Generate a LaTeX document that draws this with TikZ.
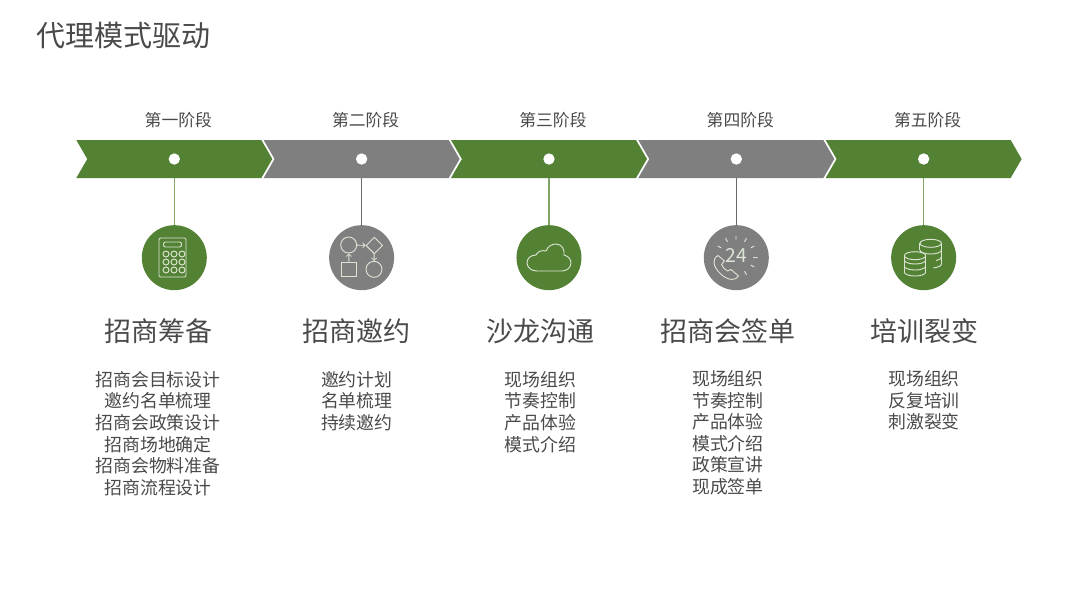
\documentclass[tikz,border=0pt]{standalone}
\usepackage{fontspec}
\setmainfont{Noto Sans CJK SC}
\usetikzlibrary{positioning, shapes.symbols, shapes.geometric, arrows}
\definecolor{stagegreen}{HTML}{548235}
\definecolor{stagegray}{HTML}{7F7F7F}
\definecolor{linegreen}{HTML}{7FA463}
\definecolor{linegray}{HTML}{6A6A6A}
\definecolor{iconline}{HTML}{DCE4D4}
\definecolor{inktext}{HTML}{4A4A4A}

\begin{document}
\begin{tikzpicture}[
            x = 0.75pt,
            y = -0.75pt,
            > = to, % open arrow head
            node distance = 140.5pt, % distance between stages
            text = inktext
        ]

        \tikzset{
            chevron/.style = {
                signal, signal from = west, signal to = east,
                signal pointer angle = 120,
                minimum width = 147pt,
                minimum height = 28.5pt,
                inner sep = 0pt
            },
            stagedot/.style = {circle, fill = white, minimum size = 8.5pt, inner sep = 0pt},
            badge/.style = {circle, minimum size = 48.75pt, inner sep = 0pt},
            stagelabel/.style = {font = \fontsize{12.6}{15}\selectfont},
            heading/.style = {font = \fontsize{20.25}{24}\selectfont},
            itemlist/.style = {align = center, font = \fontsize{13.4}{16.2}\selectfont},
            glyph/.style = {draw = iconline, line width = 0.7pt}
        }
        \useasboundingbox (0,0) rectangle (1080,608);

        \node[anchor = west, font = \fontsize{21.75}{26}\selectfont] (title) at (32,36) {代理模式驱动};

        % chevrons
        \node[chevron, fill = stagegreen] (s1) at (174.3,159) {};
        \node[chevron, fill = stagegray] (s2) [right of=s1] {};
        \node[chevron, fill = stagegreen] (s3) [right of=s2] {};
        \node[chevron, fill = stagegray] (s4) [right of=s3] {};
        \node[chevron, fill = stagegreen] (s5) [right of=s4] {};

        \node[stagedot] (d1) at (s1) {};
        \node[stagedot] (d2) at (s2) {};
        \node[stagedot] (d3) at (s3) {};
        \node[stagedot] (d4) at (s4) {};
        \node[stagedot] (d5) at (s5) {};

        \node[stagelabel] (l1) [above of=s1, node distance=29pt, xshift=3pt] {第一阶段};
        \node[stagelabel] (l2) [above of=s2, node distance=29pt, xshift=3pt] {第二阶段};
        \node[stagelabel] (l3) [above of=s3, node distance=29pt, xshift=3pt] {第三阶段};
        \node[stagelabel] (l4) [above of=s4, node distance=29pt, xshift=3pt] {第四阶段};
        \node[stagelabel] (l5) [above of=s5, node distance=29pt, xshift=3pt] {第五阶段};

        % badges
        \node[badge, fill = stagegreen] (c1) [below of=s1, node distance=74pt] {};
        \node[badge, fill = stagegray] (c2) [below of=s2, node distance=74pt] {};
        \node[badge, fill = stagegreen] (c3) [below of=s3, node distance=74pt] {};
        \node[badge, fill = stagegray] (c4) [below of=s4, node distance=74pt] {};
        \node[badge, fill = stagegreen] (c5) [below of=s5, node distance=74pt] {};

        \draw[linegreen, line width = 1pt] (s1.south) -- (c1);
        \draw[linegray, line width = 1pt] (s2.south) -- (c2);
        \draw[linegreen, line width = 1pt] (s3.south) -- (c3);
        \draw[linegray, line width = 1pt] (s4.south) -- (c4);
        \draw[linegreen, line width = 1pt] (s5.south) -- (c5);

        % headings and lists
        \node[heading] (h1) [below of=c1, node distance=55pt, xshift=-12.2pt] {招商筹备};
        \node[heading] (h2) [below of=c2, node distance=55pt, xshift=-3.6pt] {招商邀约};
        \node[heading] (h3) [below of=c3, node distance=55pt, xshift=-6.3pt] {沙龙沟通};
        \node[heading] (h4) [below of=c4, node distance=55pt, xshift=-6.3pt] {招商会签单};
        \node[heading] (h5) [below of=c5, node distance=55pt, xshift=0.3pt] {培训裂变};

        \node[itemlist] (t1) [below=13.75pt of h1] {招商会目标设计\\邀约名单梳理\\招商会政策设计\\招商场地确定\\招商会物料准备\\招商流程设计};
        \node[itemlist] (t2) [below=13.75pt of h2] {邀约计划\\名单梳理\\持续邀约};
        \node[itemlist] (t3) [below=13.75pt of h3] {现场组织\\节奏控制\\产品体验\\模式介绍};
        \node[itemlist] (t4) [below=13.2pt of h4] {现场组织\\节奏控制\\产品体验\\模式介绍\\政策宣讲\\现成签单};
        \node[itemlist] (t5) [below=13.2pt of h5] {现场组织\\反复培训\\刺激裂变};

        % calculator
        \draw[glyph, rounded corners = 1pt] (159,238) rectangle (186,277);
        \draw[glyph, rounded corners = 1.5pt] (163.5,242) rectangle (181.5,247);
        \draw[glyph] (166,254) circle[radius=3] (174,254) circle[radius=3] (182,254) circle[radius=3]
            (166,262) circle[radius=3] (174,262) circle[radius=3] (182,262) circle[radius=3]
            (166,270) circle[radius=3] (174,270) circle[radius=3] (182,270) circle[radius=3];

        % flow chart
        \node[glyph, circle, minimum size = 12pt, inner sep = 0pt] (f1) at (348.7,245) {};
        \node[glyph, diamond, minimum size = 12.5pt, inner sep = 0pt] (f2) at (374.3,245.5) {};
        \node[glyph, circle, minimum size = 12pt, inner sep = 0pt] (f3) at (374,269.3) {};
        \node[glyph, rectangle, minimum size = 11pt, inner sep = 0pt] (f4) at (349,269.5) {};
        \draw[glyph, ->] (f4) -- (f1);
        \draw[glyph, ->] (f1) -- (f2);
        \draw[glyph, ->] (f2) -- (f3);

        % cloud
        \draw[glyph, line join = round] (537,271) .. controls (531,271) and (527,267) .. (527,263)
            .. controls (527,258) and (531,255) .. (536,255)
            .. controls (538,251) and (542,250) .. (546,251)
            .. controls (548,246) and (552,244) .. (556,244)
            .. controls (562,244) and (565,250) .. (564,255)
            .. controls (568,256) and (571,259) .. (571,263)
            .. controls (571,268) and (566,271) .. (562,271) -- cycle;

        % phone and clock
        \node[text = iconline, font = \fontsize{14.5}{16}\selectfont, inner sep = 0pt] (n24) at (736,255) {24};
        \draw[glyph] (736,239.5) -- (736,235.5) (744.5,241.8) -- (746.5,238.3) (750.7,248) -- (754.2,246)
            (753,257.5) -- (757.5,257.5) (750.7,265) -- (754.2,267) (744.5,271.2) -- (746.5,274.7)
            (727.5,241.8) -- (725.5,238.3) (721.3,248) -- (717.8,246);
        \draw[glyph, line join = round] (718,255.5) .. controls (715,257) and (713.5,260) .. (714,263)
            .. controls (715,270) and (724,279) .. (732,279.5)
            .. controls (735,279.5) and (737.5,278) .. (738.5,276)
            -- (731,269.5) -- (727.5,271)
            .. controls (725,270) and (722.5,267) .. (721.5,264.5)
            -- (724.5,261) -- cycle;

        % coins, back stack
        \draw[glyph] (930.7,243.3) ellipse[x radius=10.8, y radius=4];
        \draw[glyph] (919.9,243.3) -- (919.9,250) (941.5,243.3) -- (941.5,264);
        \draw[glyph] (919.9,250) arc[start angle=180, end angle=0, x radius=10.8, y radius=4];
        \draw[glyph] (941.5,257) arc[start angle=0, end angle=60, x radius=10.8, y radius=4];
        \draw[glyph] (941.5,264) arc[start angle=0, end angle=75, x radius=10.8, y radius=4];
        % coins, front stack
        \fill[stagegreen] (904.3,255.7) rectangle (925.7,272) (915,255.7) ellipse[x radius=10.7, y radius=4];
        \draw[glyph] (915,255.7) ellipse[x radius=10.7, y radius=4];
        \draw[glyph] (904.3,255.7) -- (904.3,272) (925.7,255.7) -- (925.7,272);
        \draw[glyph] (904.3,260) arc[start angle=180, end angle=0, x radius=10.7, y radius=4];
        \draw[glyph] (904.3,266) arc[start angle=180, end angle=0, x radius=10.7, y radius=4];
        \draw[glyph] (904.3,272) arc[start angle=180, end angle=0, x radius=10.7, y radius=4];
    \end{tikzpicture}
\end{document}
